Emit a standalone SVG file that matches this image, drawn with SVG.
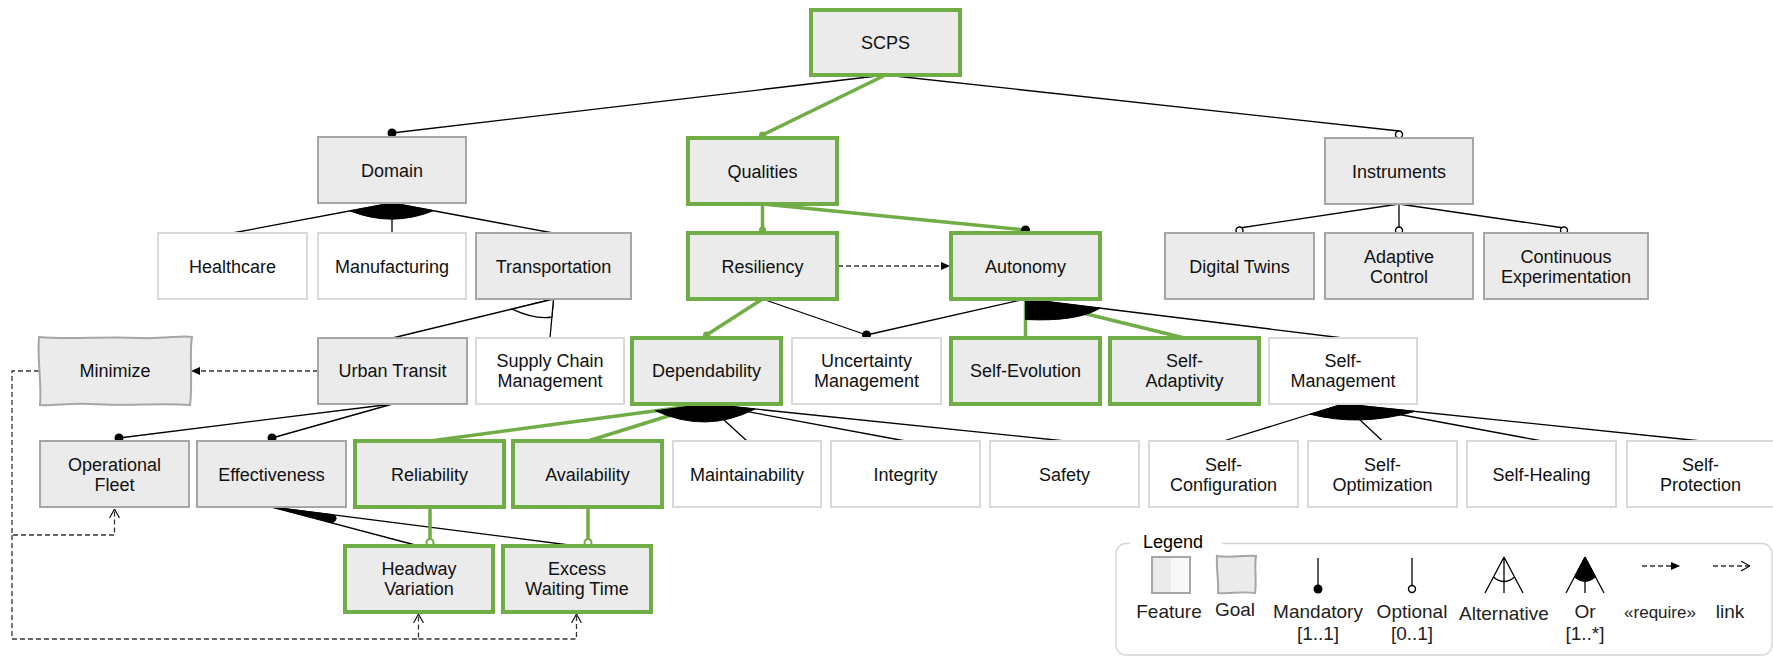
<svg xmlns="http://www.w3.org/2000/svg" width="1773" height="656" viewBox="0 0 1773 656">
  <style>
    .g { fill: #ebebeb; stroke: #a6a6a6; stroke-width: 2; }
    .h { fill: #ebebeb; stroke: #70ad47; stroke-width: 4; }
    .w { fill: #ffffff; stroke: #d9d9d9; stroke-width: 2; }
    text { font-family: "Liberation Sans", Arial, Helvetica, sans-serif; font-size: 18px; text-anchor: middle; fill: #111; }
    .lg text { font-size: 19px; fill: #222; }
    .ln { stroke: #000; stroke-width: 1.3; fill: none; }
    .gl { stroke: #70ad47; stroke-width: 3.5; fill: none; }
    .ds { stroke: #333; stroke-width: 1.3; stroke-dasharray: 5 3; fill: none; }
    .dot { fill: #000; }
    .gdot { fill: #70ad47; }
    .odot { fill: #fff; stroke: #000; stroke-width: 1.4; }
    .godot { fill: #fff; stroke: #70ad47; stroke-width: 2; }
    .or { fill: #000; stroke: #000; stroke-width: 1; }
    .alt { fill: #fff; stroke: #000; stroke-width: 1.3; }
  </style>
  <defs>
    <marker id="req" viewBox="0 0 10 10" refX="10" refY="5" markerWidth="9" markerHeight="9" markerUnits="userSpaceOnUse" orient="auto">
      <path d="M0,0.5 L10,5 L0,9.5 z" fill="#000"/>
    </marker>
    <marker id="lnk" viewBox="0 0 10 12" refX="10" refY="6" markerWidth="9" markerHeight="11" markerUnits="userSpaceOnUse" orient="auto">
      <path d="M0,0.5 L10,6 L0,11.5" fill="none" stroke="#000" stroke-width="1.2"/>
    </marker>
  </defs>
  <rect width="1773" height="656" fill="#fff"/>

  <!-- connectors -->
  <g id="connectors">
    <!-- SCPS children -->
    <path class="ln" d="M885.5,75 L392,133"/>
    <circle class="dot" cx="392" cy="133" r="4.5"/>
    <path class="ln" d="M885.5,75 L1399,131"/>
    <circle class="odot" cx="1399" cy="134.5" r="3.5"/>
    <path class="gl" d="M885.5,75 L762.5,135"/>
    <circle class="gdot" cx="762.5" cy="135" r="3.5"/>

    <!-- Domain: or-group -->
    <path class="ln" d="M392,203 L232.5,233 M392,203 L392,233 M392,203 L553,233"/>
    <path class="or" d="M392,203 L350,210.9 Q392,227.5 433.5,210.7 Z"/>

    <!-- Transportation: alternative group -->
    <path class="ln" d="M553.5,299 L392.5,338 M553.5,299 L550,338"/>
    <path class="alt" d="M553.5,299 L512,309.1 Q536,320 551.9,317 Z"/>

    <!-- Urban Transit children -->
    <path class="ln" d="M392.5,404 L119,438 M392.5,404 L272,438"/>
    <circle class="dot" cx="119" cy="438" r="4.5"/>
    <circle class="dot" cx="272" cy="438" r="4.5"/>
    <path class="ds" d="M318,371 L191,371" marker-end="url(#req)"/>

    <!-- Minimize links -->
    <path class="ds" d="M39,371 H12 V535 H114.5 V509" marker-end="url(#lnk)"/>
    <path class="ds" d="M12,535 V639 H418.5 V614" marker-end="url(#lnk)"/>
    <path class="ds" d="M418.5,639 H576.5 V614" marker-end="url(#lnk)"/>

    <!-- Effectiveness: or-group -->
    <path class="ln" d="M271.5,507 L419,546 M271.5,507 L577,546"/>
    <path class="or" d="M271.5,507 L332.5,522.8 Q339,519 334,514.8 Z"/>

    <!-- Reliability / Availability optional -->
    <path class="gl" d="M430,507 V539.5 M588,507 V539.5"/>
    <circle class="godot" cx="430" cy="542.5" r="3.5"/>
    <circle class="godot" cx="588" cy="542.5" r="3.5"/>

    <!-- Qualities children -->
    <path class="gl" d="M762.5,204 V230"/>
    <circle class="gdot" cx="762.5" cy="230" r="3.5"/>
    <path class="gl" d="M762.5,204 L1025.5,230"/>
    <circle class="dot" cx="1025.5" cy="230" r="4.5"/>

    <!-- Resiliency requires Autonomy -->
    <path class="ds" d="M838,266 L950,266" marker-end="url(#req)"/>

    <!-- Resiliency children -->
    <path class="gl" d="M762.5,299 L706.5,335"/>
    <circle class="gdot" cx="706.5" cy="335" r="3.5"/>
    <path class="ln" d="M762.5,299 L866.5,335"/>

    <!-- Autonomy children: or-group -->
    <path class="ln" d="M1025.5,299 L866.5,335 M1025.5,299 L1343,338"/>
    <circle class="dot" cx="866.5" cy="335" r="4.5"/>
    <path class="gl" d="M1025.5,299 V338 M1025.5,299 L1184.5,338"/>
    <path class="or" d="M1025.5,299 V319.5 Q1077,322 1100,308.2 Z"/>

    <!-- Dependability: or-group -->
    <path class="ln" d="M706.5,404 L747,441 M706.5,404 L905.5,441 M706.5,404 L1065,441"/>
    <path class="gl" d="M706.5,404 L430,441 M706.5,404 L588,441"/>
    <path class="or" d="M706.5,404 L655.5,410.8 Q706,434 755,409 Z"/>

    <!-- Self-Management: or-group -->
    <path class="ln" d="M1343,404 L1223.5,441 M1343,404 L1382.5,441 M1343,404 L1542,441 M1343,404 L1701,441"/>
    <path class="or" d="M1343,404 L1310,414.2 Q1360,427 1415,411.4 Z"/>

    <!-- Instruments children -->
    <path class="ln" d="M1399,204 L1239.5,228 M1399,204 V228 M1399,204 L1564,228"/>
    <circle class="odot" cx="1239.5" cy="230.5" r="3.5"/>
    <circle class="odot" cx="1399" cy="230.5" r="3.5"/>
    <circle class="odot" cx="1564" cy="230.5" r="3.5"/>
  </g>

  <!-- nodes -->
  <g id="n-scps"><rect class="h" x="811" y="10" width="149" height="65"/><text x="885.5" y="49">SCPS</text></g>

  <g id="n-domain"><rect class="g" x="318" y="137" width="148" height="66"/><text x="392" y="177">Domain</text></g>
  <g id="n-qualities"><rect class="h" x="688" y="138" width="149" height="66"/><text x="762.5" y="177.5">Qualities</text></g>
  <g id="n-instruments"><rect class="g" x="1325" y="138" width="148" height="66"/><text x="1399" y="177.5">Instruments</text></g>

  <g id="n-healthcare"><rect class="w" x="158" y="233" width="149" height="66"/><text x="232.5" y="272.5">Healthcare</text></g>
  <g id="n-manufacturing"><rect class="w" x="318" y="233" width="148" height="66"/><text x="392" y="272.5">Manufacturing</text></g>
  <g id="n-transportation"><rect class="g" x="476" y="233" width="155" height="66"/><text x="553.5" y="272.5">Transportation</text></g>
  <g id="n-resiliency"><rect class="h" x="688" y="233" width="149" height="66"/><text x="762.5" y="272.5">Resiliency</text></g>
  <g id="n-autonomy"><rect class="h" x="951" y="233" width="149" height="66"/><text x="1025.5" y="272.5">Autonomy</text></g>
  <g id="n-digital-twins"><rect class="g" x="1165" y="233" width="149" height="66"/><text x="1239.5" y="272.5">Digital Twins</text></g>
  <g id="n-adaptive-control"><rect class="g" x="1325" y="233" width="148" height="66"/><text x="1399" y="262.5">Adaptive</text><text x="1399" y="282.5">Control</text></g>
  <g id="n-continuous-experimentation"><rect class="g" x="1484" y="233" width="164" height="66"/><text x="1566" y="262.5">Continuous</text><text x="1566" y="282.5">Experimentation</text></g>

  <g id="n-minimize">
    <path class="g" d="M39,337 C70,340 105,336 140,338 C165,339 182,335 192,337 C189,352 193,385 190,405 C165,403 125,406 90,404 C70,403 52,406 40,405 C42,385 37,358 39,337 Z"/>
    <text x="115" y="377">Minimize</text>
  </g>
  <g id="n-urban-transit"><rect class="g" x="318" y="338" width="149" height="66"/><text x="392.5" y="377">Urban Transit</text></g>
  <g id="n-supply-chain"><rect class="w" x="476" y="338" width="148" height="66"/><text x="550" y="367">Supply Chain</text><text x="550" y="387">Management</text></g>
  <g id="n-dependability"><rect class="h" x="632" y="338" width="149" height="66"/><text x="706.5" y="377">Dependability</text></g>
  <g id="n-uncertainty"><rect class="w" x="792" y="338" width="149" height="66"/><text x="866.5" y="367">Uncertainty</text><text x="866.5" y="387">Management</text></g>
  <g id="n-self-evolution"><rect class="h" x="951" y="338" width="149" height="66"/><text x="1025.5" y="377">Self-Evolution</text></g>
  <g id="n-self-adaptivity"><rect class="h" x="1110" y="338" width="149" height="66"/><text x="1184.5" y="367">Self-</text><text x="1184.5" y="387">Adaptivity</text></g>
  <g id="n-self-management"><rect class="w" x="1269" y="338" width="148" height="66"/><text x="1343" y="367">Self-</text><text x="1343" y="387">Management</text></g>

  <g id="n-operational-fleet"><rect class="g" x="40" y="441" width="149" height="66"/><text x="114.5" y="470.5">Operational</text><text x="114.5" y="490.5">Fleet</text></g>
  <g id="n-effectiveness"><rect class="g" x="197" y="441" width="149" height="66"/><text x="271.5" y="480.5">Effectiveness</text></g>
  <g id="n-reliability"><rect class="h" x="355" y="441" width="149" height="66"/><text x="429.5" y="480.5">Reliability</text></g>
  <g id="n-availability"><rect class="h" x="513" y="441" width="149" height="66"/><text x="587.5" y="480.5">Availability</text></g>
  <g id="n-maintainability"><rect class="w" x="673" y="441" width="148" height="66"/><text x="747" y="480.5">Maintainability</text></g>
  <g id="n-integrity"><rect class="w" x="831" y="441" width="149" height="66"/><text x="905.5" y="480.5">Integrity</text></g>
  <g id="n-safety"><rect class="w" x="990" y="441" width="149" height="66"/><text x="1064.5" y="480.5">Safety</text></g>
  <g id="n-self-configuration"><rect class="w" x="1149" y="441" width="149" height="66"/><text x="1223.5" y="470.5">Self-</text><text x="1223.5" y="490.5">Configuration</text></g>
  <g id="n-self-optimization"><rect class="w" x="1308" y="441" width="149" height="66"/><text x="1382.5" y="470.5">Self-</text><text x="1382.5" y="490.5">Optimization</text></g>
  <g id="n-self-healing"><rect class="w" x="1467" y="441" width="149" height="66"/><text x="1541.5" y="480.5">Self-Healing</text></g>
  <g id="n-self-protection"><rect class="w" x="1627" y="441" width="148" height="66"/><text x="1700.5" y="470.5">Self-</text><text x="1700.5" y="490.5">Protection</text></g>

  <g id="n-headway"><rect class="h" x="345" y="546" width="148" height="66"/><text x="419" y="575">Headway</text><text x="419" y="595">Variation</text></g>
  <g id="n-excess-waiting"><rect class="h" x="503" y="546" width="148" height="66"/><text x="577" y="575">Excess</text><text x="577" y="595">Waiting Time</text></g>

  <!-- legend -->
  <g id="legend" class="lg">
    <path d="M1222,543.5 H1762 A10,10 0 0 1 1772,553.5 V645 A10,10 0 0 1 1762,655 H1126 A10,10 0 0 1 1116,645 V553.5 A10,10 0 0 1 1126,543.5 H1130" fill="none" stroke="#d4d4d4" stroke-width="1.3"/>
    <text x="1173" y="548" style="font-size:18px;fill:#000">Legend</text>

    <rect x="1152" y="557" width="38" height="36" fill="#ebebeb" stroke="none"/>
    <rect x="1171" y="557" width="19" height="36" fill="#f8f8f8" stroke="none"/>
    <rect x="1152" y="557" width="38" height="36" fill="none" stroke="#a6a6a6" stroke-width="2"/>
    <text x="1169" y="618">Feature</text>

    <path d="M1217,556 C1230,558 1244,555 1256,556 C1254,568 1257,582 1255,593 C1243,591 1230,594 1218,593 C1219,581 1216,568 1217,556 Z" fill="#ebebeb" stroke="#a6a6a6" stroke-width="2"/>
    <text x="1235" y="616">Goal</text>

    <path class="ln" d="M1318,558 V585"/>
    <circle class="dot" cx="1318" cy="589" r="4.5"/>
    <text x="1318" y="618">Mandatory</text>
    <text x="1318" y="640">[1..1]</text>

    <path class="ln" d="M1412,558 V585"/>
    <circle class="odot" cx="1412" cy="589" r="3.5"/>
    <text x="1412" y="618">Optional</text>
    <text x="1412" y="640">[0..1]</text>

    <path class="ln" d="M1504,557 L1485,593 M1504,557 L1523,593 M1504,557 V593 M1493.4,577 Q1504,586 1514.6,577"/>
    <text x="1504" y="620">Alternative</text>

    <path class="ln" d="M1585,557 L1566,593 M1585,557 L1604,593 M1585,557 V593"/>
    <path class="or" d="M1585,557 L1574.4,577 Q1585,586 1595.6,577 Z"/>
    <text x="1585" y="618">Or</text>
    <text x="1585" y="640">[1..*]</text>

    <path class="ds" d="M1642,566 H1680" marker-end="url(#req)"/>
    <text x="1660" y="618" style="font-size:17px">«require»</text>

    <path class="ds" d="M1713,566 H1750" marker-end="url(#lnk)"/>
    <text x="1730" y="618">link</text>
  </g>
</svg>
